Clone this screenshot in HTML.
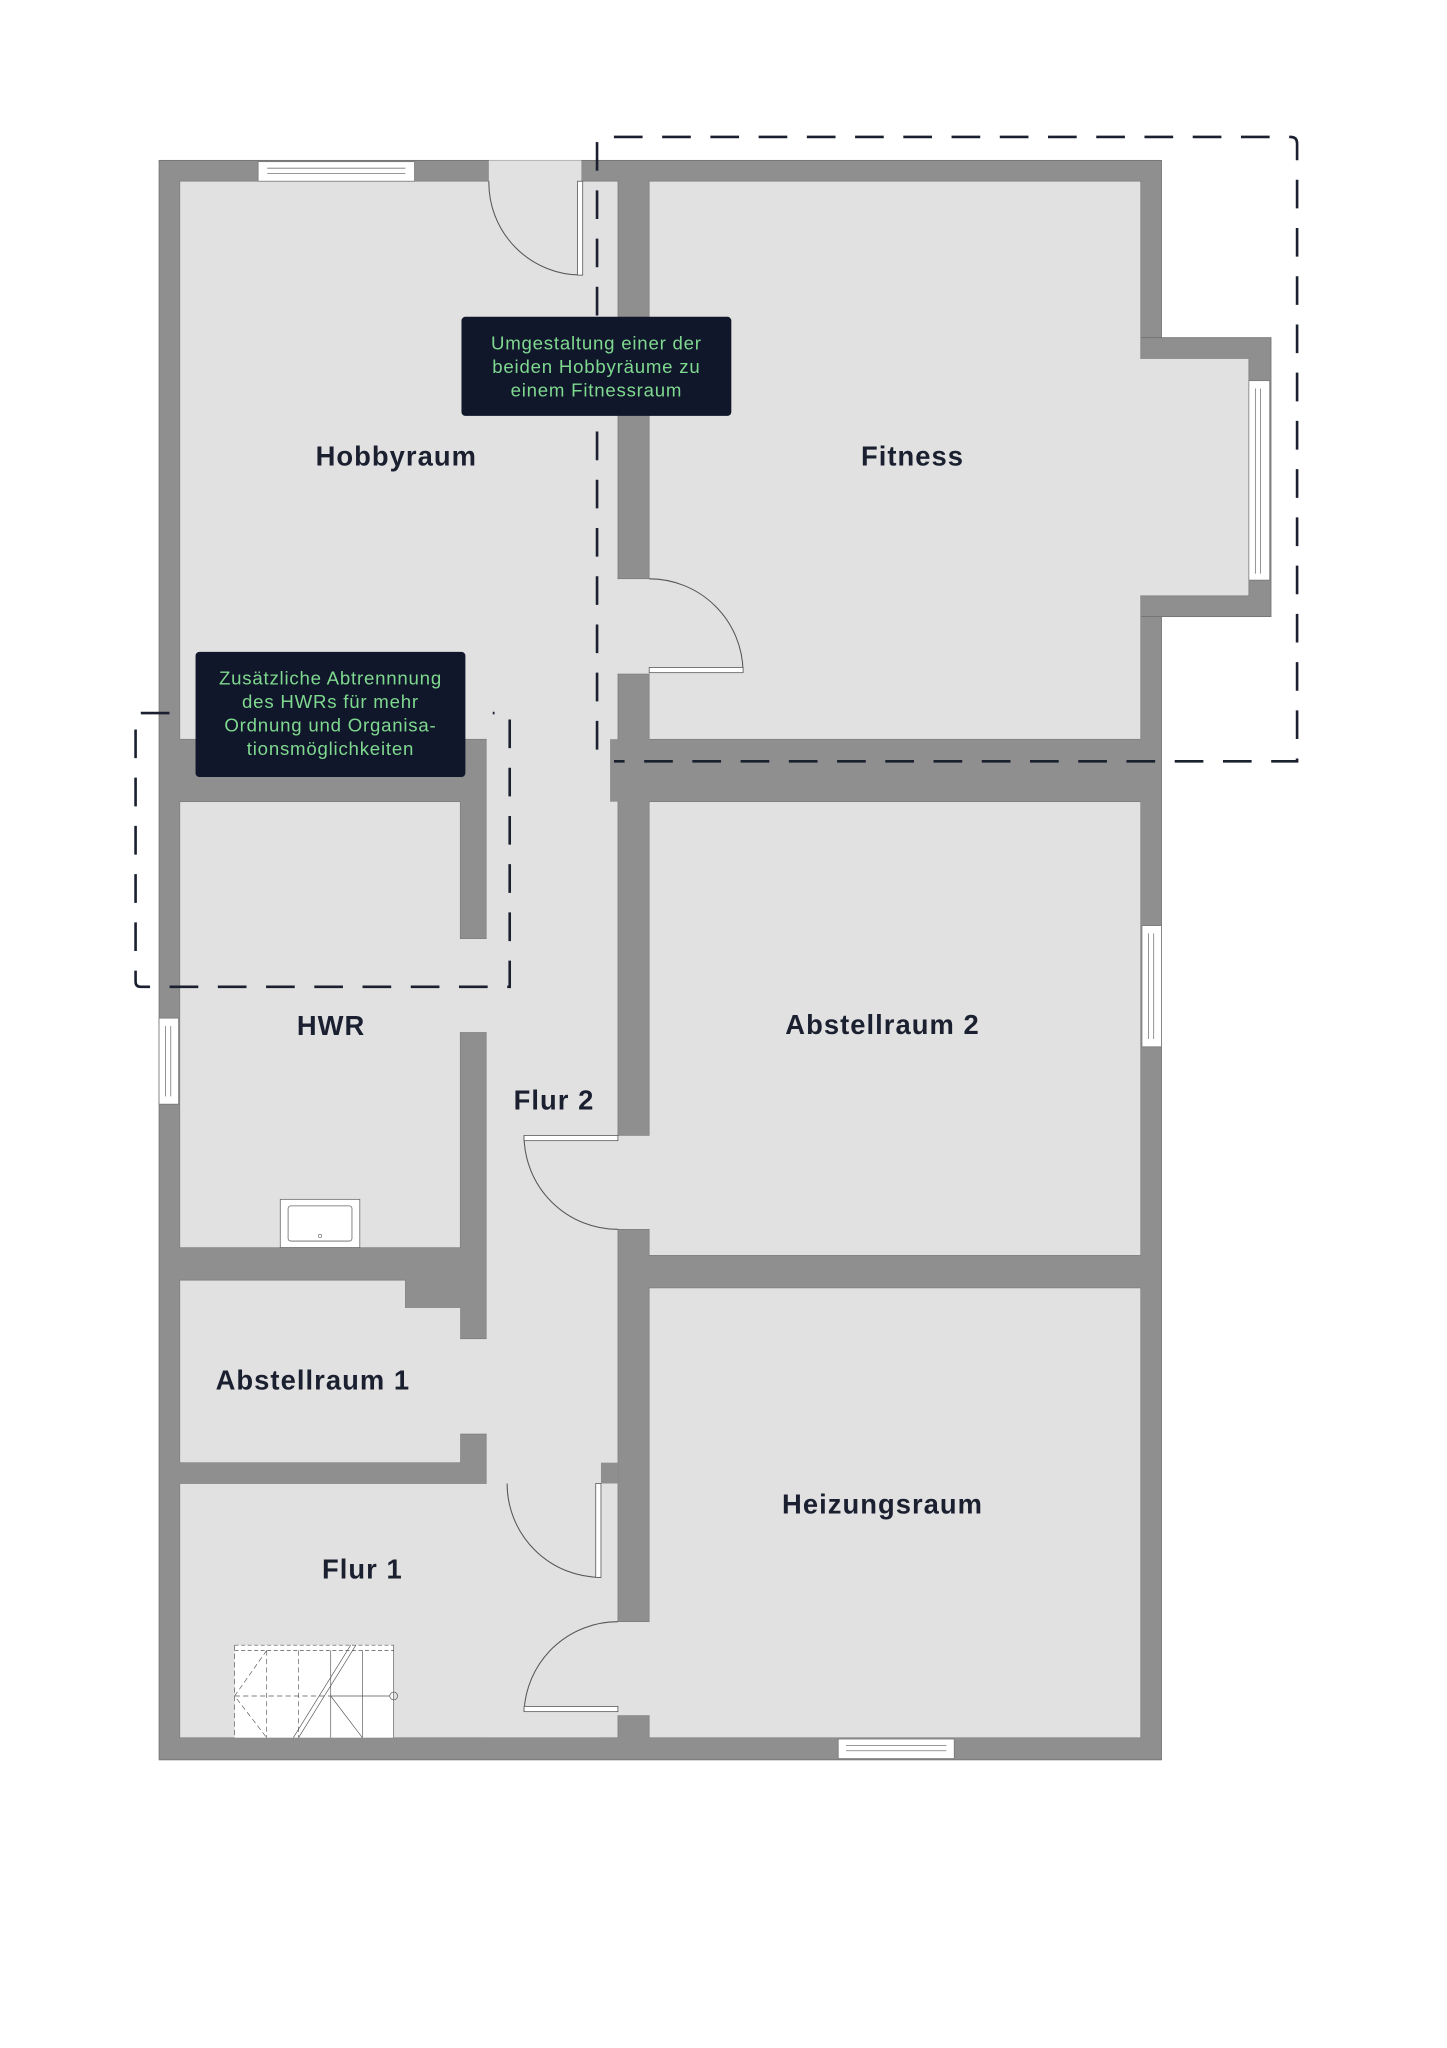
<!DOCTYPE html>
<html><head><meta charset="utf-8"><style>
html,body{margin:0;padding:0;background:#fff;}
svg{display:block;}
.lbl{font-family:"Liberation Sans",sans-serif;font-size:21px;font-weight:bold;fill:#1b2030;text-anchor:middle;letter-spacing:0.8px;}
.co{font-family:"Liberation Sans",sans-serif;font-size:14.3px;fill:#7fd88f;text-anchor:middle;letter-spacing:0.6px;}
</style></head><body>
<svg width="1447" height="2048" viewBox="0 0 1110 1571" xmlns="http://www.w3.org/2000/svg">
<rect width="1110" height="1571" fill="#fff"/>
<g fill="#8f8f8f" stroke="#6f6f6f" stroke-width="0.6">
<rect x="122" y="123" width="769" height="1227"/>
<rect x="875" y="259" width="100" height="214"/>
</g>
<g fill="#e1e1e1" stroke="#777" stroke-width="0.5">
<rect x="138" y="139" width="336" height="428"/>
<rect x="373" y="139" width="101" height="1194"/>
<rect x="498" y="139" width="377" height="428"/>
<rect x="875" y="275" width="83" height="182"/>
<rect x="138" y="615" width="215" height="342"/>
<rect x="353" y="720" width="20" height="72"/>
<rect x="138" y="982" width="173" height="140"/>
<rect x="311" y="1003" width="42" height="119"/>
<rect x="353" y="1027" width="21" height="73"/>
<rect x="138" y="1138" width="323" height="195"/>
<rect x="389" y="1122" width="72" height="16"/>
<rect x="498" y="615" width="377" height="348"/>
<rect x="474" y="871" width="24" height="72"/>
<rect x="474" y="444" width="24" height="73"/>
<rect x="498" y="988" width="377" height="345"/>
<rect x="474" y="1244" width="24" height="72"/>
</g>
<g fill="#e1e1e1">
<rect x="138.3" y="139.3" width="335.4" height="427.4"/>
<rect x="373.3" y="139.3" width="100.4" height="1193.4"/>
<rect x="498.3" y="139.3" width="376.4" height="427.4"/>
<rect x="874" y="275.3" width="83.7" height="181.4"/>
<rect x="138.3" y="615.3" width="214.4" height="341.4"/>
<rect x="352" y="720.3" width="22" height="71.4"/>
<rect x="138.3" y="982.3" width="172.4" height="139.4"/>
<rect x="310" y="1003.3" width="43" height="118.4"/>
<rect x="352" y="1027.3" width="22" height="72.4"/>
<rect x="138.3" y="1138.3" width="322.4" height="194.4"/>
<rect x="389.3" y="1121" width="71.4" height="18"/>
<rect x="498.3" y="615.3" width="376.4" height="347.4"/>
<rect x="473" y="871.3" width="26" height="71.4"/>
<rect x="473" y="444.3" width="26" height="72.4"/>
<rect x="498.3" y="988.3" width="376.4" height="344.4"/>
<rect x="473" y="1244.3" width="26" height="71.4"/>
<rect x="375" y="123" width="71" height="17"/>
</g>
<rect x="468" y="567" width="30" height="48" fill="#8f8f8f"/>
<rect x="461" y="1122" width="13" height="16" fill="#8f8f8f"/>
<g fill="#fff" stroke="#777" stroke-width="0.6">
<rect x="198" y="124" width="120" height="15"/>
<line x1="205" y1="129" x2="311" y2="129"/><line x1="205" y1="133" x2="311" y2="133"/>
<rect x="958" y="292" width="16" height="153"/>
<line x1="963" y1="298" x2="963" y2="440"/><line x1="967" y1="298" x2="967" y2="440"/>
<rect x="876" y="710" width="15" height="93"/>
<line x1="881" y1="716" x2="881" y2="797"/><line x1="885" y1="716" x2="885" y2="797"/>
<rect x="122" y="781" width="15" height="66"/>
<line x1="127" y1="787" x2="127" y2="841"/><line x1="131" y1="787" x2="131" y2="841"/>
<rect x="643" y="1334" width="89" height="15"/>
<line x1="649" y1="1339" x2="726" y2="1339"/><line x1="649" y1="1343" x2="726" y2="1343"/>
</g>
<g fill="none" stroke="#555" stroke-width="0.8">
<path d="M375 139 A71 71 0 0 0 446 211"/>
<path d="M570 515 A72 72 0 0 0 498 444"/>
<path d="M402 871 A72 72 0 0 0 474 943"/>
<path d="M389 1138 A72 72 0 0 0 461 1210"/>
<path d="M474 1244 A72 72 0 0 0 402 1313"/>
</g>
<g fill="#fff" stroke="#555" stroke-width="0.6">
<rect x="443" y="139" width="4" height="72"/>
<rect x="498" y="512" width="72" height="4"/>
<rect x="402" y="871" width="72" height="4"/>
<rect x="457" y="1138" width="4" height="72"/>
<rect x="402" y="1309" width="72" height="4"/>
</g>
<rect x="215" y="920" width="61" height="37" fill="#fff" stroke="#666" stroke-width="0.6"/>
<rect x="221" y="925" width="49" height="27" rx="2" fill="#fff" stroke="#666" stroke-width="0.6"/>
<circle cx="245.5" cy="948" r="1.3" fill="none" stroke="#666" stroke-width="0.5"/>
<rect x="180" y="1262" width="122" height="71" fill="#fff"/>
<g stroke="#555" stroke-width="0.5" fill="none">
<path d="M180 1262 H302 M180 1266 H302" stroke-dasharray="3 2"/>
<path d="M180 1262 V1333 M204.6 1266 V1333 M229 1266 V1333" stroke-dasharray="4 2.5"/>
<path d="M253.7 1266 V1333 M278 1266 V1333 M302 1262 V1333"/>
<path d="M180 1301 H253.7" stroke-dasharray="4 2.5"/>
<path d="M253.7 1301 H299"/>
<path d="M204.6 1266 L180 1301 L204.6 1333" stroke-dasharray="4 2.5"/>
<path d="M253.7 1301 L278 1333"/>
<path d="M225 1333 L269 1262 M229 1333 L273 1262"/>
<circle cx="302" cy="1301" r="3"/>
</g>
<g fill="none" stroke="#1b2030" stroke-width="2" stroke-dasharray="22 15">
<path d="M458 575 V110 Q458 105 463 105 H990 Q995 105 995 110 V584 H471"/>
<path d="M130 547 H108 Q104 547 104 551 V753 Q104 757 108 757 H391 V551 Q391 547 387 547 H378"/>
</g>
<rect x="354" y="243" width="207" height="76" rx="3" fill="#10172a"/>
<text class="co" x="457.5" y="268">Umgestaltung einer der</text>
<text class="co" x="457.5" y="286">beiden Hobbyräume zu</text>
<text class="co" x="457.5" y="304">einem Fitnessraum</text>
<rect x="150" y="500" width="207" height="96" rx="3" fill="#10172a"/>
<text class="co" x="253.5" y="525">Zusätzliche Abtrennnung</text>
<text class="co" x="253.5" y="543">des HWRs für mehr</text>
<text class="co" x="253.5" y="561">Ordnung und Organisa-</text>
<text class="co" x="253.5" y="579">tionsmöglichkeiten</text>
<text class="lbl" x="304" y="357">Hobbyraum</text>
<text class="lbl" x="700" y="357">Fitness</text>
<text class="lbl" x="254" y="794">HWR</text>
<text class="lbl" x="425" y="851">Flur 2</text>
<text class="lbl" x="677" y="793">Abstellraum 2</text>
<text class="lbl" x="240" y="1066">Abstellraum 1</text>
<text class="lbl" x="677" y="1161">Heizungsraum</text>
<text class="lbl" x="278" y="1211">Flur 1</text>
</svg>
</body></html>
